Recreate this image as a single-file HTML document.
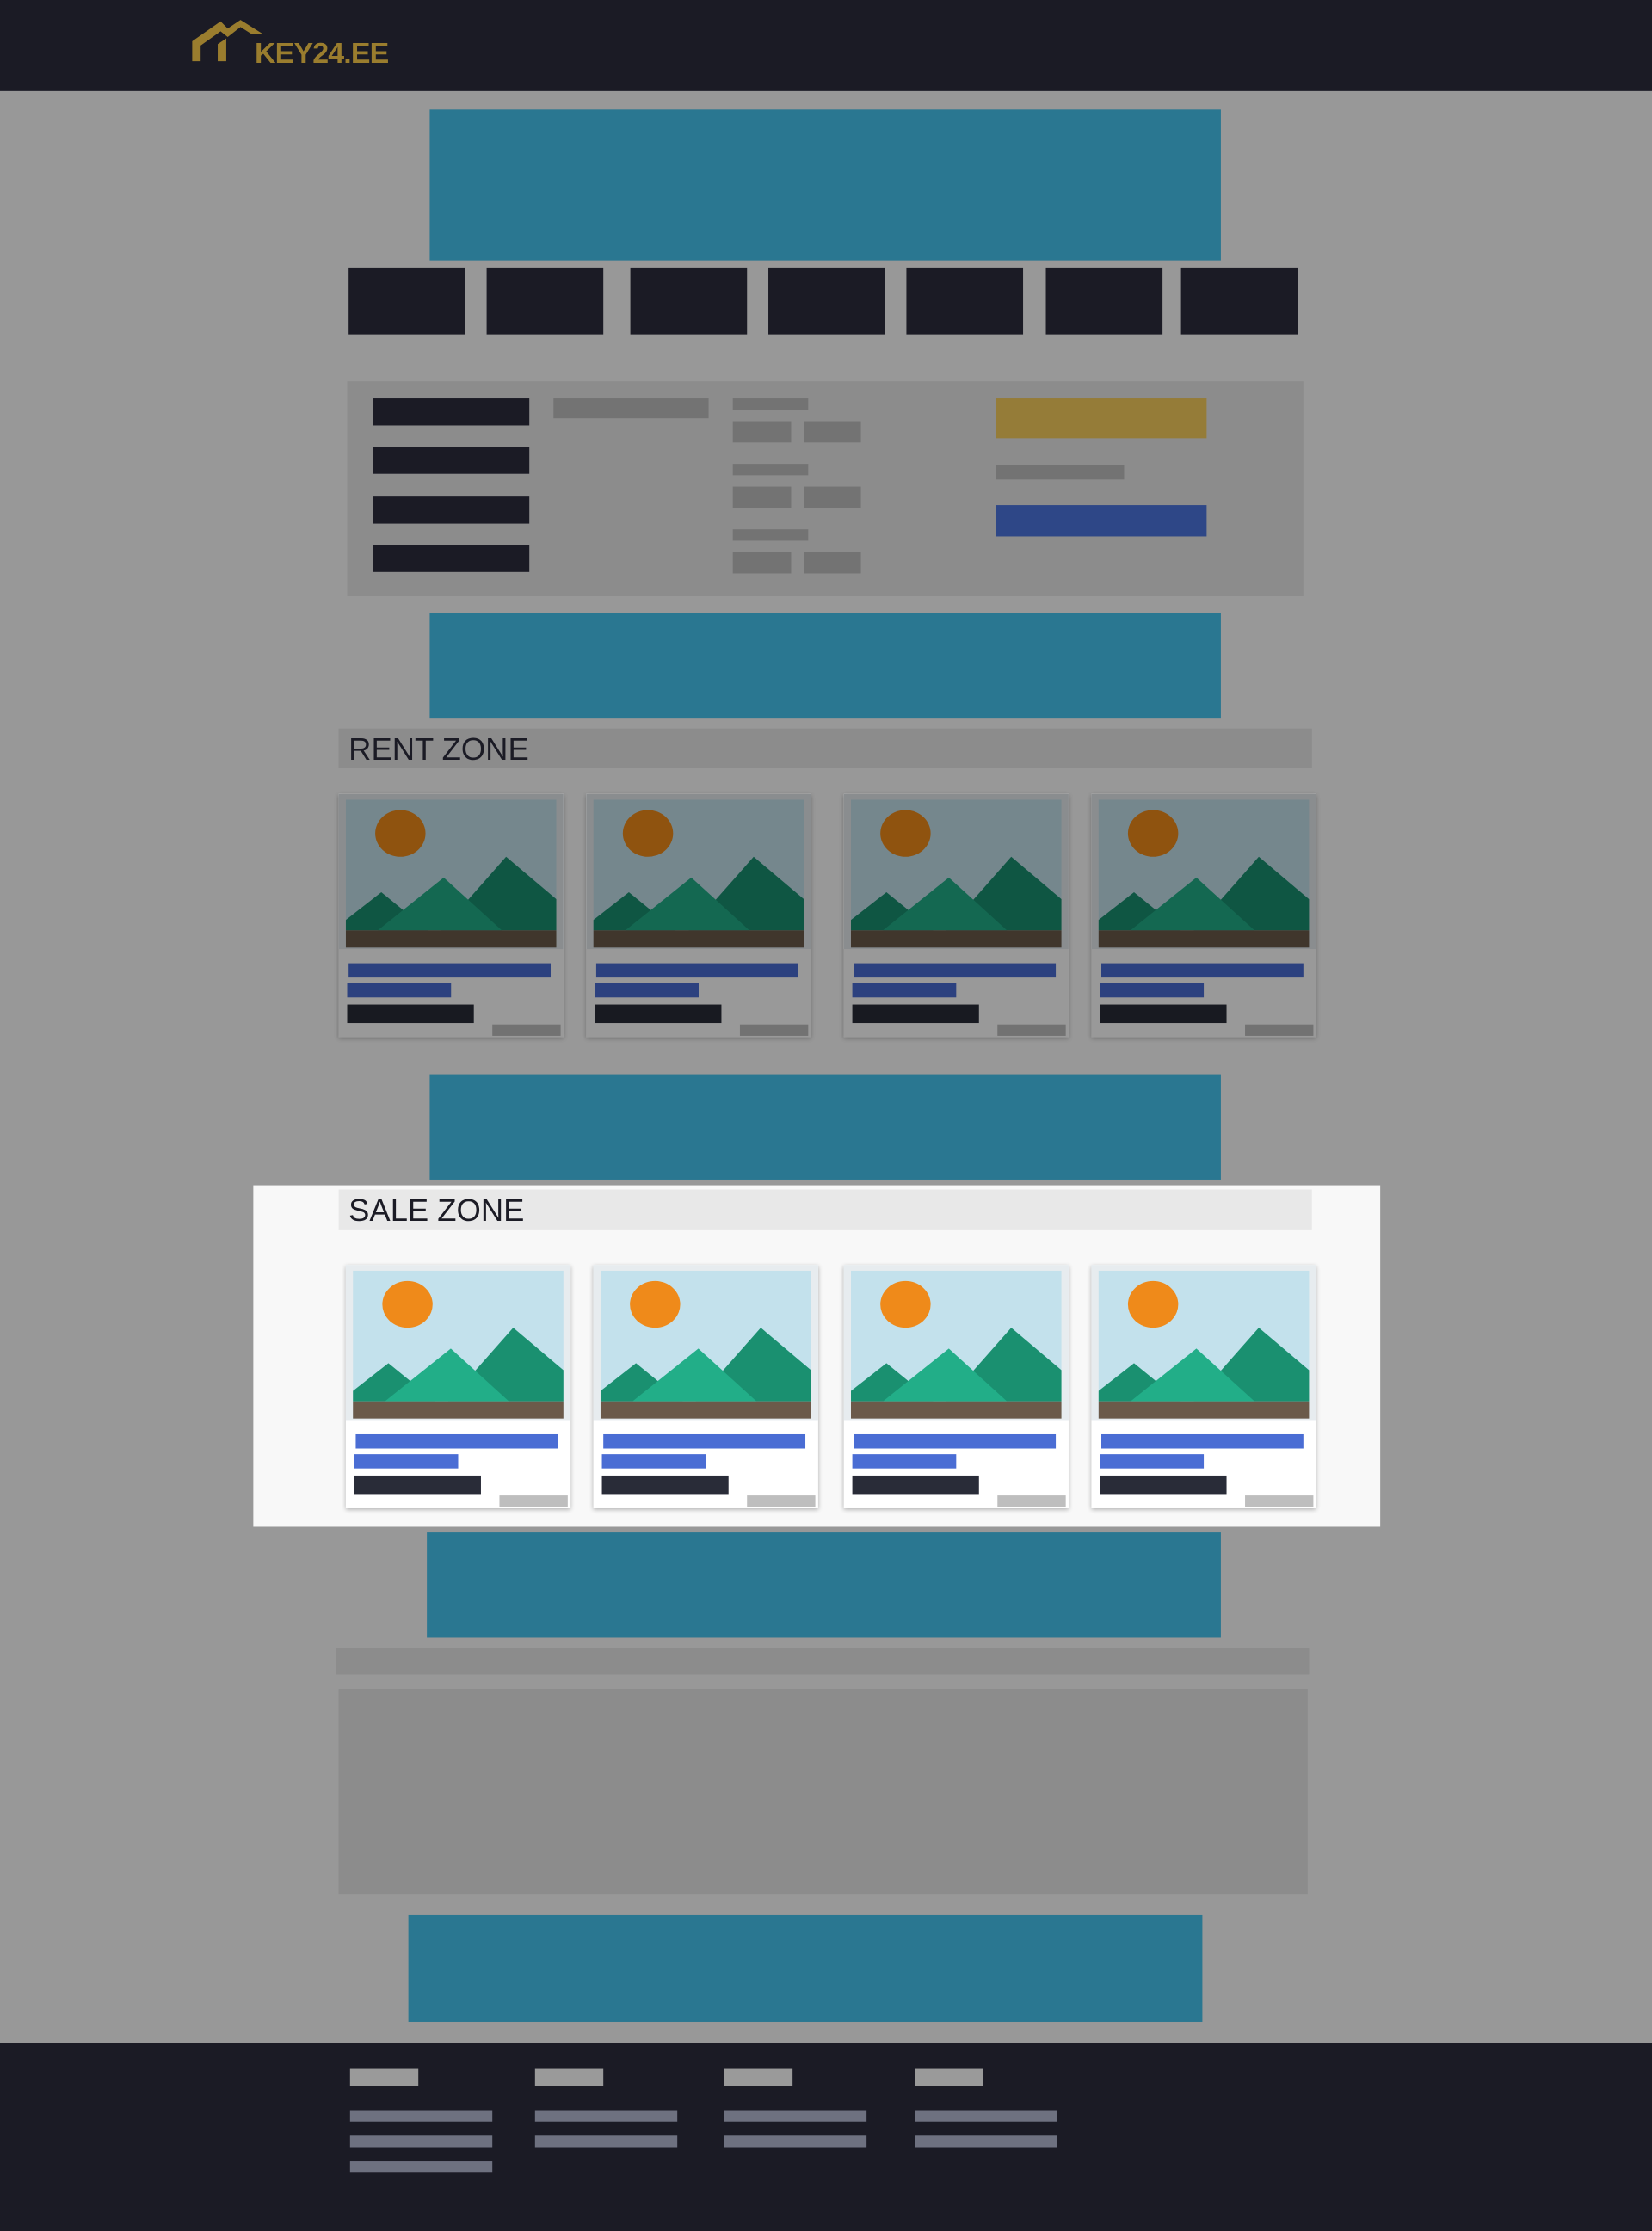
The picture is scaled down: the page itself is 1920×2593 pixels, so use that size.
<!DOCTYPE html>
<html><head><meta charset="utf-8">
<style>
html,body{margin:0;padding:0;}
body{width:1920px;height:2593px;overflow:hidden;background:#989898;font-family:"Liberation Sans",sans-serif;}
#w{position:absolute;left:0;top:0;width:1161px;height:1568px;transform:scale(1.65375);transform-origin:0 0;}
.a{position:absolute;}
.bn{background:#2a7791;}
.nv{background:#1b1b25;top:188px;height:47px;width:82px;}
.dk{background:#1b1b25;}
.g{background:#737373;}
.card{position:absolute;width:158px;height:171px;background:#fff;box-shadow:0 1px 3px rgba(0,0,0,0.3);}
.card .img{position:absolute;left:0;top:0;width:158px;height:109px;background:#e7ecef;}
.card svg{position:absolute;left:5px;top:4px;}
.ov{position:absolute;left:0;top:0;right:0;bottom:0;background:rgba(0,0,0,0.4);}
</style></head><body>
<div id="w">
<div class="a" style="left:0;top:0;width:1161px;height:64px;background:#1b1b25;"></div>
<div class="a" style="left:135px;top:13px;width:140px;height:34px;">
<svg width="140" height="34" viewBox="0 0 140 34"><path d="M0 30 V16 L20 2 L25 7 L34 1 L50 11 L42 11 L34 6 L25 13 L20 9 L6 19 V30 Z M18 30 V18 L24 14 V30Z" fill="#9a7d2e"/>
<text x="44" y="31" style="font-family:'Liberation Sans',sans-serif;font-weight:bold;font-size:20px;letter-spacing:-0.5px" fill="#9a7d2e" textLength="94" lengthAdjust="spacingAndGlyphs">KEY24.EE</text></svg></div>
<div class="a bn" style="left:302px;top:77px;width:556px;height:106px;"></div>
<div class="a nv" style="left:245px"></div>
<div class="a nv" style="left:342px"></div>
<div class="a nv" style="left:443px"></div>
<div class="a nv" style="left:540px"></div>
<div class="a nv" style="left:637px"></div>
<div class="a nv" style="left:735px"></div>
<div class="a nv" style="left:830px"></div>

<div class="a" style="left:244px;top:268px;width:672px;height:151px;background:#8c8c8c;">
<div class="a dk" style="left:18px;top:12px;width:110px;height:19px"></div>
<div class="a dk" style="left:18px;top:46px;width:110px;height:19px"></div>
<div class="a dk" style="left:18px;top:81px;width:110px;height:19px"></div>
<div class="a dk" style="left:18px;top:115px;width:110px;height:19px"></div>
<div class="a g" style="left:145px;top:12px;width:109px;height:14px"></div>
<div class="a g" style="left:271px;top:12px;width:53px;height:8px"></div>
<div class="a g" style="left:271px;top:28px;width:41px;height:15px"></div>
<div class="a g" style="left:321px;top:28px;width:40px;height:15px"></div>
<div class="a g" style="left:271px;top:58px;width:53px;height:8px"></div>
<div class="a g" style="left:271px;top:74px;width:41px;height:15px"></div>
<div class="a g" style="left:321px;top:74px;width:40px;height:15px"></div>
<div class="a g" style="left:271px;top:104px;width:53px;height:8px"></div>
<div class="a g" style="left:271px;top:120px;width:41px;height:15px"></div>
<div class="a g" style="left:321px;top:120px;width:40px;height:15px"></div>
<div class="a" style="left:456px;top:12px;width:148px;height:28px;background:#957c38"></div>
<div class="a g" style="left:456px;top:59px;width:90px;height:10px"></div>
<div class="a" style="left:456px;top:87px;width:148px;height:22px;background:#2e4787"></div>
</div>

<div class="a bn" style="left:302px;top:431px;width:556px;height:74px;"></div>
<div class="a" style="left:238px;top:512px;width:684px;height:28px;background:#8c8c8c;"><span class="a" style="left:7px;top:2px;font-size:22px;color:#1b1b25;">RENT ZONE</span></div>
<div class="a bn" style="left:302px;top:755px;width:556px;height:74px;"></div>

<div class="a" style="left:178px;top:833px;width:792px;height:240px;background:#f8f8f8;"></div>
<div class="a" style="left:238px;top:836px;width:684px;height:28px;background:#e8e8e8;"><span class="a" style="left:7px;top:2px;font-size:22px;color:#1b1b25;">SALE ZONE</span></div>

<div class="a bn" style="left:300px;top:1077px;width:558px;height:74px;"></div>
<div class="a" style="left:236px;top:1158px;width:684px;height:19px;background:#8c8c8c;"></div>
<div class="a" style="left:238px;top:1187px;width:681px;height:144px;background:#8c8c8c;"></div>
<div class="a bn" style="left:287px;top:1346px;width:558px;height:75px;"></div>

<div class="a" style="left:0;top:1436px;width:1161px;height:132px;background:#1b1b25;" id="ft"></div>
</div>
<script>
const w=document.getElementById('w');
function card(x,y,dim,i,kind){
  const c=document.createElement('div');
  c.className='card';
  
  
  c.style.left=x+'px';c.style.top=y+'px';
  c.innerHTML='<div class="img"></div><svg width="148" height="104" viewBox="0 0 243 171" preserveAspectRatio="none">'+
  '<rect width="243" height="171" fill="#c3e1ec"/><ellipse cx="63" cy="39" rx="29" ry="27" fill="#ef8a1a"/>'+
  '<polygon points="0,139 41,107 95,151 0,151" fill="#1a9070"/>'+
  '<polygon points="110,151 185,66 243,115 243,151" fill="#1a9070"/>'+
  '<polygon points="37,151 113,90 180,151" fill="#22ae88"/>'+
  '<rect y="151" width="243" height="20" fill="#6b5a4a"/></svg>'+
  '<div class="a" style="left:7px;top:119px;width:142px;height:10px;background:#4a6dd4"></div>'+
  '<div class="a" style="left:6px;top:133px;width:73px;height:10px;background:#4a6dd4"></div>'+
  '<div class="a" style="left:6px;top:148px;width:89px;height:13px;background:#292c38"></div>'+
  '<div class="a" style="left:108px;top:162px;width:48px;height:8px;background:#bebebe"></div>'+
  (dim?'<div class="ov"></div>':'');
  w.appendChild(c);
}
const rx=[238,412,593,767], sx=[243,417,593,767];
rx.forEach((x,i)=>card(x,558,true,i+1,'rent'));
sx.forEach((x,i)=>card(x,889,false,i+1,'sale'));
const ft=document.getElementById('ft');
const fx=[246,376,509,643], fn=[3,2,2,2];
fx.forEach((x,i)=>{
  const t=document.createElement('div');
  t.className='a';
  
  
  t.style.cssText='left:'+x+'px;top:18px;width:48px;height:12px;background:#9a9a9a';
  ft.appendChild(t);
  for(let k=0;k<fn[i];k++){
    const l=document.createElement('div');
    l.className='a';
    
    
    l.style.cssText='left:'+x+'px;top:'+(47+k*18)+'px;width:100px;height:8px;background:#6e7180';
    ft.appendChild(l);
  }
});
</script>
</body></html>
